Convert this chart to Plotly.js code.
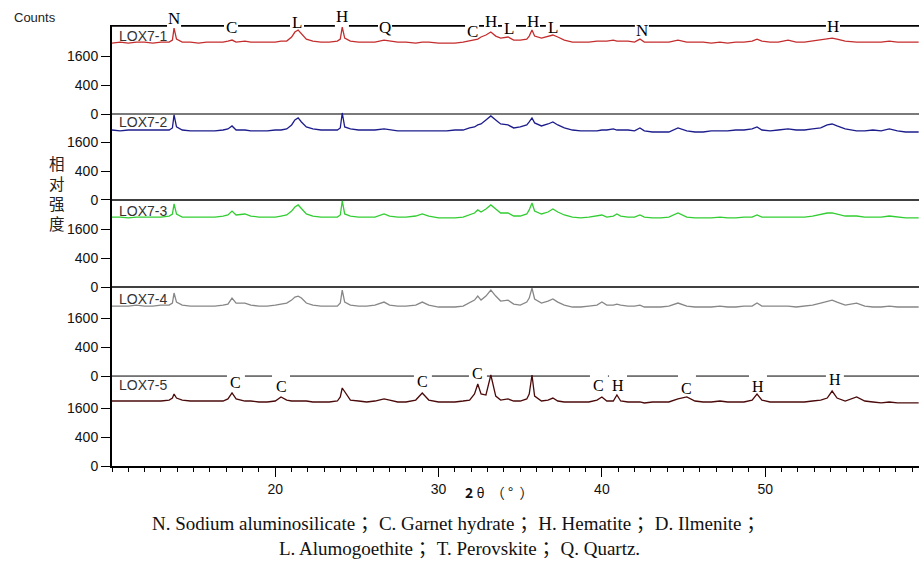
<!DOCTYPE html>
<html><head><meta charset="utf-8">
<script src="https://cdn.plot.ly/plotly-3.0.1.min.js"></script>
<style>html,body{margin:0;padding:0;background:#fff}#chart{width:919px;height:571px}</style>
</head><body><div id="chart"></div>
<script>
// 2θ grid (degrees)
const twoTheta = [10,10.5,11,11.5,12,12.5,13,13.5,13.7,13.8,
13.95,14.3,14.8,15.3,15.8,16.3,16.8,17.1,17.35,17.6,
18.14,18.5,19,19.5,20,20.35,20.7,21.0,21.2,21.4,
21.6,21.9,22.3,22.8,23.3,23.8,23.98,24.1,24.25,24.6,
25.1,25.6,26.1,26.66,27.0,27.5,28,28.6,29.0,29.4,
30,30.5,31,31.5,31.9,32.2,32.4,32.6,32.9,33.2,
33.5,33.8,34.25,34.6,35.0,35.4,35.55,35.72,35.88,36.3,
36.7,37.0,37.3,37.7,38.2,38.7,39.2,39.7,40.0,40.3,
40.7,40.92,41.15,41.6,42.0,42.33,42.6,43.1,43.6,44.1,
44.66,45.2,45.7,46.2,46.7,47.23,47.7,48.2,48.7,49.2,
49.5,49.8,50.3,50.8,51.4,51.9,52.4,52.9,53.4,53.8,
54.1,54.4,54.9,55.6,56.1,56.6,57.1,57.6,58.1,58.6,
59.1,59.4];

// Counts per sample
const lox7_1 = [2410,2480,2410,2480,2480,2410,2480,2480,2620,3540,
2690,2480,2480,2410,2480,2480,2480,2550,2620,2480,
2550,2480,2480,2480,2480,2550,2550,2840,3220,3380,
3060,2690,2550,2480,2480,2550,2690,3620,2760,2550,
2480,2480,2480,2620,2550,2480,2480,2410,2480,2480,
2410,2410,2410,2480,2550,2620,2690,2840,2990,3220,
2910,2760,2840,2620,2620,2690,2910,3380,2910,2760,
2910,2990,2840,2620,2480,2480,2480,2550,2550,2550,
2620,2550,2550,2550,2480,2690,2480,2480,2480,2480,
2620,2480,2480,2480,2410,2480,2410,2480,2480,2550,
2690,2550,2480,2480,2620,2480,2480,2550,2620,2690,
2760,2690,2550,2480,2480,2480,2480,2550,2480,2480,
2480,2480];
const lox7_2 = [2340,2280,2340,2340,2340,2340,2340,2340,2480,3460,
2550,2340,2280,2280,2280,2280,2340,2410,2620,2340,
2340,2280,2280,2280,2340,2340,2410,2690,3060,3220,
2910,2550,2410,2340,2340,2340,2480,3620,2550,2410,
2340,2340,2340,2410,2340,2280,2280,2280,2280,2280,
2280,2280,2340,2340,2480,2550,2690,2760,3060,3380,
3060,2760,2690,2480,2550,2690,2910,3220,2840,2620,
2760,2910,2690,2480,2340,2280,2280,2280,2340,2340,
2410,2340,2340,2340,2280,2480,2280,2210,2210,2210,
2480,2280,2210,2210,2280,2280,2280,2340,2340,2410,
2550,2340,2280,2340,2410,2340,2340,2410,2480,2690,
2760,2620,2410,2280,2280,2340,2280,2410,2280,2210,
2210,2210];
const lox7_3 = [2340,2340,2280,2340,2340,2340,2340,2410,2550,3300,
2550,2340,2340,2340,2340,2340,2410,2480,2760,2480,
2550,2410,2340,2340,2340,2410,2480,2760,3060,3220,
2910,2550,2410,2340,2340,2340,2480,3540,2550,2410,
2340,2340,2340,2550,2410,2340,2340,2410,2550,2410,
2280,2280,2280,2340,2480,2620,2840,2690,2910,3220,
2910,2620,2620,2410,2410,2550,2840,3380,2760,2550,
2690,2910,2690,2480,2340,2280,2340,2410,2480,2340,
2410,2550,2410,2340,2340,2480,2340,2280,2280,2340,
2620,2340,2280,2280,2280,2340,2280,2280,2340,2340,
2480,2340,2340,2340,2340,2340,2340,2410,2550,2620,
2620,2550,2410,2410,2340,2340,2340,2410,2340,2280,
2280,2280];
const lox7_4 = [2340,2340,2340,2410,2340,2340,2410,2410,2550,3300,
2620,2410,2340,2340,2340,2340,2410,2480,2910,2550,
2550,2410,2340,2340,2410,2480,2550,2760,2990,3060,
2910,2550,2410,2340,2340,2340,2550,3540,2620,2410,
2340,2340,2410,2620,2410,2340,2340,2410,2620,2410,
2280,2280,2280,2340,2550,2760,3060,2760,3060,3540,
3060,2690,2760,2480,2410,2620,2910,3700,2840,2550,
2690,2840,2620,2410,2280,2280,2340,2410,2620,2410,
2410,2480,2410,2340,2340,2410,2280,2280,2280,2340,
2550,2340,2280,2280,2280,2340,2280,2280,2340,2340,
2550,2340,2340,2340,2340,2280,2340,2410,2550,2690,
2760,2620,2410,2550,2340,2280,2280,2340,2280,2280,
2280,2280];
const lox7_5 = [2020,2020,2020,2020,2020,2020,2020,2080,2210,2480,
2210,2080,2020,2020,2020,2020,2020,2150,2550,2150,
2020,2020,1960,1960,2020,2280,2080,2020,2020,2020,
2020,2020,1960,1960,1960,2020,2280,2910,2620,2080,
2020,1960,2020,2150,2080,1960,1960,2080,2550,2080,
1960,1960,1960,2020,2080,2480,3220,2480,2410,3960,
2340,2080,2150,2020,2020,2150,2480,3960,2340,2020,
2080,2210,2020,1960,1960,1960,1960,2080,2280,2020,
2020,2410,2020,1960,1960,1960,1900,1960,1960,1960,
2150,2280,2020,1960,1960,2020,1960,1960,1960,2080,
2480,2080,1960,1960,1960,1960,1960,2020,2080,2210,
2690,2210,2020,2280,2020,1960,1900,1960,1900,1900,
1900,1900];

const sampleNames = ['LOX7-1','LOX7-2','LOX7-3','LOX7-4','LOX7-5'];
const yTickCounts = [0,400,1600];
const yTickLabels = ['0','400','1600'];
const xTickVals = [20,30,40,50];
const xTickLabels = ['20','30','40','50'];

const phaseTop = ['N','C','L','H','Q','C','H','L','H','L','N','H'];
const phaseTopAt = [13.8,17.29,21.33,24.08,26.72,32.05,33.21,34.31,35.78,37.0,42.45,54.15];
const phaseBottom = ['C','C','C','C','C','H','C','H','H'];
const phaseBottomAt = [17.59,20.35,29.04,32.41,39.82,40.99,45.21,49.56,54.27];

const captionLines = [
  'N. Sodium aluminosilicate ；C. Garnet hydrate ；H. Hematite ；D. Ilmenite ；',
  'L. Alumogoethite ；T. Perovskite ；Q. Quartz.'
];
const yTitleText = '相<br>对<br>强<br>度';
const xTitleText = '<b>2</b> θ  （ °  ）';

// ---- layout helpers (style / position only) ----
const series = [lox7_1, lox7_2, lox7_3, lox7_4, lox7_5];
const colors = ['rgb(196,45,45)','rgb(28,28,140)','rgb(50,205,50)','rgb(135,135,135)','rgb(75,10,10)'];
const panelBase = [243.4, 184.0, 123.8, 62.2, 0];   // stacking offsets in sqrt(counts)
const yTop = 305;
const topLift = [6.5,-2.5,2.5,8.5,-2.5,-6,3.5,-3.5,4,-2.5,-5.5,-1.5];
const bottomLift = [-6.5,-10,-5.5,2.5,-9,-9,-12.5,-10,-3];
const labelPaperY = [0.975,0.779,0.578,0.3787,0.1837];

const traces = series.map((s,i)=>({
  x: twoTheta,
  y: s.map(c => Math.sqrt(c) + panelBase[i]),
  type:'scatter', mode:'lines',
  line:{color:colors[i], width:1.3},
  hoverinfo:'skip', showlegend:false
}));

const tickvals = [], ticktext = [];
panelBase.forEach(b => yTickCounts.forEach((c,j)=>{ tickvals.push(Math.sqrt(c)+b); ticktext.push(yTickLabels[j]); }));

const shapes = [];
const sepY = [yTop-0.4, panelBase[0], panelBase[1], panelBase[2], panelBase[3]];
const sepStyle = [{color:'#000',width:2.5},{color:'#7a7a7a',width:2},{color:'#000',width:1.5},{color:'#000',width:1.5},{color:'#000',width:1}];
sepY.forEach((y,i)=>shapes.push({type:'line',xref:'paper',x0:0,x1:1,yref:'y',y0:y,y1:y,line:sepStyle[i],layer:'below'}));
phaseTopAt.forEach(x=>shapes.push({type:'rect',xref:'x',yref:'y',x0:x-0.43,x1:x+0.43,y0:yTop-3,y1:yTop+1,fillcolor:'#fff',line:{width:0},layer:'below'}));
phaseBottomAt.forEach(x=>shapes.push({type:'rect',xref:'x',yref:'y',x0:x-0.55,x1:x+0.55,y0:panelBase[3]-2.5,y1:panelBase[3]+2.5,fillcolor:'#fff',line:{width:0},layer:'below'}));

const ann = [];
const mk = (o)=>Object.assign({showarrow:false,xanchor:'center',yanchor:'middle'},o);
phaseTop.forEach((t,i)=>ann.push(mk({text:t,x:phaseTopAt[i],xref:'x',y:yTop,yref:'y',yshift:topLift[i],
  font:{family:'Liberation Serif, Times New Roman, serif',size:17,color:'#000'}})));
phaseBottom.forEach((t,i)=>ann.push(mk({text:t,x:phaseBottomAt[i],xref:'x',y:panelBase[3],yref:'y',yshift:bottomLift[i],
  font:{family:'Liberation Serif, Times New Roman, serif',size:16,color:'#000'}})));
sampleNames.forEach((n,i)=>ann.push(mk({text:n,xref:'paper',x:0.0062,xanchor:'left',yref:'paper',y:labelPaperY[i],
  font:{family:'Liberation Sans, Arial, sans-serif',size:14,color:'#333'}})));
ann.push(mk({text:'Counts',xref:'paper',x:-0.1239,xanchor:'left',yref:'paper',y:1.017,
  font:{family:'Liberation Sans, Arial, sans-serif',size:13,color:'#222'}}));
ann.push(mk({text:yTitleText,xref:'paper',x:-0.0682,yref:'paper',y:0.619,
  font:{family:'Noto Sans CJK SC, sans-serif',size:15.5,color:'#222'}}));
ann.push(mk({text:xTitleText,xref:'paper',x:0.4795,yref:'paper',y:-0.059,
  font:{family:'Noto Sans CJK SC, sans-serif',size:14,color:'#111'}}));
ann.push(mk({text:captionLines[0],xref:'paper',x:0.4294,yref:'paper',y:-0.1315,
  font:{family:'Liberation Serif, Noto Sans CJK SC, serif',size:19,color:'#111'}}));
ann.push(mk({text:captionLines[1],xref:'paper',x:0.4306,yref:'paper',y:-0.1882,
  font:{family:'Liberation Serif, Noto Sans CJK SC, serif',size:19,color:'#111'}}));

const layout = {
  width:919, height:571,
  margin:{l:112, r:0, t:25, b:105, pad:0},
  paper_bgcolor:'#fff', plot_bgcolor:'#fff',
  xaxis:{range:[10,59.42], tickmode:'array', tickvals:xTickVals, ticktext:xTickLabels,
    ticks:'outside', ticklen:9, tickwidth:1, tickcolor:'#000',
    minor:{tickmode:'linear', tick0:0, dtick:1, ticks:'outside', ticklen:4, tickwidth:1, tickcolor:'#000'},
    showline:true, linecolor:'#000', linewidth:2, showgrid:false, zeroline:false,
    tickfont:{family:'Liberation Sans, Arial, sans-serif', size:14, color:'#111'}},
  yaxis:{range:[0,yTop], tickmode:'array', tickvals:tickvals, ticktext:ticktext,
    ticks:'outside', ticklen:9, tickwidth:1, tickcolor:'#000',
    showline:true, linecolor:'#000', linewidth:2, showgrid:false, zeroline:false,
    tickfont:{family:'Liberation Sans, Arial, sans-serif', size:14, color:'#111'}},
  shapes:shapes, annotations:ann
};
Plotly.newPlot('chart', traces, layout, {displayModeBar:false, staticPlot:true});
</script></body></html>
